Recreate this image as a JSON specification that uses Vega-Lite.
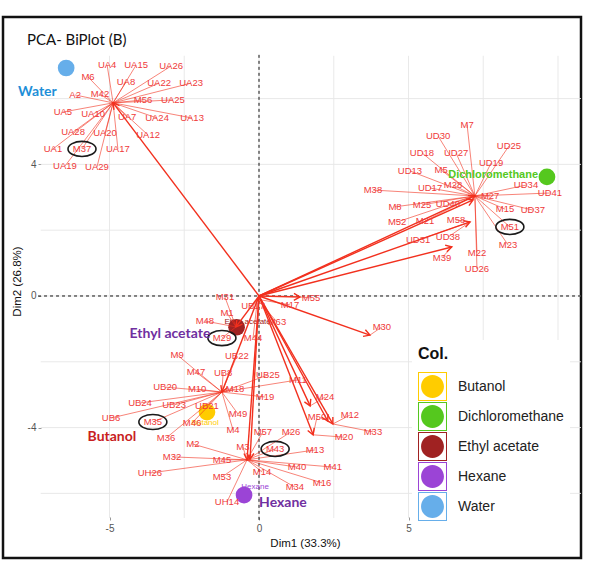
{
  "$schema": "https://vega.github.io/schema/vega-lite/v6.json",
  "width": 578,
  "height": 541,
  "autosize": {"type": "none"},
  "padding": {"left": 3, "top": 17, "right": 10, "bottom": 11},
  "background": "white",
  "title": {"text": "PCA- BiPlot (B)", "anchor": "start", "frame": "group", "offset": -29, "dx": 24, "dy": 14, "baseline": "alphabetic", "font": "Lato", "fontSize": 15, "fontWeight": "normal", "color": "#111"},
  "config": {"view": {"stroke": "#111", "strokeWidth": 2.5}, "font": "Liberation Sans"},
  "datasets": {
    "gridx": [{"gx": -5}, {"gx": -2.5}, {"gx": 0}, {"gx": 2.5}, {"gx": 5}, {"gx": 7.5}, {"gx": 10}],
    "gridy": [{"gy": -6}, {"gy": -4}, {"gy": -2}, {"gy": 0}, {"gy": 2}, {"gy": 4}, {"gy": 6}],
    "groups": [
      {"grp": "Water", "x": -6.45, "y": 6.93},
      {"grp": "Dichloromethane", "x": 9.63, "y": 3.62},
      {"grp": "Ethyl acetate", "x": -0.75, "y": -0.95},
      {"grp": "Butanol", "x": -1.74, "y": -3.53},
      {"grp": "Hexane", "x": -0.5, "y": -6.05}
    ],
    "glabels": [
      {"grp": "Ethyl acetate", "x": -0.38, "y": -0.8},
      {"grp": "Butanol", "x": -1.8, "y": -3.86},
      {"grp": "Hexane", "x": -0.13, "y": -5.81}
    ],
    "dlabel": [{"grp": "Dichloromethane", "x": 7.83, "y": 3.68}],
    "tags": [
      {"tag": "Water", "x": -7.41, "y": 6.2},
      {"tag": "Butanol", "x": -4.92, "y": -4.29},
      {"tag": "Ethyl acetate", "x": -2.98, "y": -1.16},
      {"tag": "Hexane", "x": 0.8, "y": -6.29}
    ],
    "arrows": [
      {"a": "W", "ax": -4.88, "ay": 5.87},
      {"a": "D1", "ax": 7.22, "ay": 3.04},
      {"a": "D1b", "ax": 7.16, "ay": 2.92},
      {"a": "D2", "ax": 7.06, "ay": 2.25},
      {"a": "D3", "ax": 6.45, "ay": 1.49},
      {"a": "E2", "ax": -0.77, "ay": -0.94},
      {"a": "B", "ax": -1.24, "ay": -2.92},
      {"a": "H", "ax": -0.4, "ay": -4.98},
      {"a": "H2", "ax": -0.3, "ay": -4.96},
      {"a": "M55", "ax": 1.37, "ay": -0.03},
      {"a": "M30", "ax": 3.71, "ay": -1.19},
      {"a": "F1", "ax": 1.71, "ay": -3.34},
      {"a": "F2", "ax": 2.47, "ay": -3.89},
      {"a": "F3", "ax": 1.81, "ay": -4.22},
      {"a": "F4", "ax": 2.3, "ay": -3.8}
    ],
    "vars": [
      {"v": "UA4", "lx": -5.08, "ly": 7.02, "tx": -4.88, "ty": 5.87, "circ": 0},
      {"v": "UA15", "lx": -4.11, "ly": 7.02, "tx": -4.88, "ty": 5.87, "circ": 0},
      {"v": "UA26", "lx": -2.94, "ly": 6.99, "tx": -4.88, "ty": 5.87, "circ": 0},
      {"v": "M6", "lx": -5.72, "ly": 6.66, "tx": -4.88, "ty": 5.87, "circ": 0},
      {"v": "UA8", "lx": -4.45, "ly": 6.5, "tx": -4.88, "ty": 5.87, "circ": 0},
      {"v": "UA22", "lx": -3.34, "ly": 6.47, "tx": -4.88, "ty": 5.87, "circ": 0},
      {"v": "UA23", "lx": -2.27, "ly": 6.47, "tx": -4.88, "ty": 5.87, "circ": 0},
      {"v": "A2", "lx": -6.15, "ly": 6.11, "tx": -4.88, "ty": 5.87, "circ": 0},
      {"v": "M42", "lx": -5.32, "ly": 6.14, "tx": -4.88, "ty": 5.87, "circ": 0},
      {"v": "M56", "lx": -3.88, "ly": 5.96, "tx": -4.88, "ty": 5.87, "circ": 0},
      {"v": "UA25", "lx": -2.88, "ly": 5.96, "tx": -4.88, "ty": 5.87, "circ": 0},
      {"v": "UA5", "lx": -6.56, "ly": 5.59, "tx": -4.88, "ty": 5.87, "circ": 0},
      {"v": "UA10", "lx": -5.55, "ly": 5.53, "tx": -4.88, "ty": 5.87, "circ": 0},
      {"v": "UA7", "lx": -4.41, "ly": 5.44, "tx": -4.88, "ty": 5.87, "circ": 0},
      {"v": "UA24", "lx": -3.41, "ly": 5.41, "tx": -4.88, "ty": 5.87, "circ": 0},
      {"v": "UA13", "lx": -2.24, "ly": 5.41, "tx": -4.88, "ty": 5.87, "circ": 0},
      {"v": "UA28", "lx": -6.22, "ly": 4.98, "tx": -4.88, "ty": 5.87, "circ": 0},
      {"v": "UA20", "lx": -5.15, "ly": 4.95, "tx": -4.88, "ty": 5.87, "circ": 0},
      {"v": "UA12", "lx": -3.71, "ly": 4.89, "tx": -4.88, "ty": 5.87, "circ": 0},
      {"v": "UA1", "lx": -6.89, "ly": 4.47, "tx": -4.88, "ty": 5.87, "circ": 0},
      {"v": "M37", "lx": -5.92, "ly": 4.47, "tx": -4.88, "ty": 5.87, "circ": 1},
      {"v": "UA17", "lx": -4.72, "ly": 4.47, "tx": -4.88, "ty": 5.87, "circ": 0},
      {"v": "UA19", "lx": -6.49, "ly": 3.95, "tx": -4.88, "ty": 5.87, "circ": 0},
      {"v": "UA29", "lx": -5.42, "ly": 3.92, "tx": -4.88, "ty": 5.87, "circ": 0},
      {"v": "M7", "lx": 6.96, "ly": 5.2, "tx": 7.22, "ty": 3.04, "circ": 0},
      {"v": "UD30", "lx": 5.99, "ly": 4.86, "tx": 7.22, "ty": 3.04, "circ": 0},
      {"v": "UD25", "lx": 8.36, "ly": 4.56, "tx": 7.22, "ty": 3.04, "circ": 0},
      {"v": "UD18", "lx": 5.45, "ly": 4.35, "tx": 7.22, "ty": 3.04, "circ": 0},
      {"v": "UD27", "lx": 6.59, "ly": 4.35, "tx": 7.22, "ty": 3.04, "circ": 0},
      {"v": "UD19", "lx": 7.76, "ly": 4.04, "tx": 7.22, "ty": 3.04, "circ": 0},
      {"v": "UD13", "lx": 5.05, "ly": 3.8, "tx": 7.22, "ty": 3.04, "circ": 0},
      {"v": "M5", "lx": 6.09, "ly": 3.83, "tx": 7.22, "ty": 3.04, "circ": 0},
      {"v": "UD34", "lx": 8.93, "ly": 3.37, "tx": 7.22, "ty": 3.04, "circ": 0},
      {"v": "M38", "lx": 3.81, "ly": 3.22, "tx": 7.22, "ty": 3.04, "circ": 0},
      {"v": "UD17", "lx": 5.72, "ly": 3.28, "tx": 7.22, "ty": 3.04, "circ": 0},
      {"v": "M28", "lx": 6.49, "ly": 3.37, "tx": 7.22, "ty": 3.04, "circ": 0},
      {"v": "UD41", "lx": 9.73, "ly": 3.13, "tx": 7.22, "ty": 3.04, "circ": 0},
      {"v": "M27", "lx": 7.73, "ly": 3.04, "tx": 7.22, "ty": 3.04, "circ": 0},
      {"v": "M8", "lx": 4.55, "ly": 2.71, "tx": 7.22, "ty": 3.04, "circ": 0},
      {"v": "M25", "lx": 5.45, "ly": 2.77, "tx": 7.22, "ty": 3.04, "circ": 0},
      {"v": "UD40", "lx": 6.32, "ly": 2.8, "tx": 7.22, "ty": 3.04, "circ": 0},
      {"v": "M15", "lx": 8.23, "ly": 2.64, "tx": 7.22, "ty": 3.04, "circ": 0},
      {"v": "UD37", "lx": 9.16, "ly": 2.61, "tx": 7.22, "ty": 3.04, "circ": 0},
      {"v": "M52", "lx": 4.62, "ly": 2.25, "tx": 7.22, "ty": 3.04, "circ": 0},
      {"v": "M21", "lx": 5.55, "ly": 2.28, "tx": 7.22, "ty": 3.04, "circ": 0},
      {"v": "M51", "lx": 8.39, "ly": 2.1, "tx": 7.22, "ty": 3.04, "circ": 1},
      {"v": "M23", "lx": 8.33, "ly": 1.55, "tx": 7.22, "ty": 3.04, "circ": 0},
      {"v": "M22", "lx": 7.29, "ly": 1.31, "tx": 7.22, "ty": 3.04, "circ": 0},
      {"v": "UD26", "lx": 7.29, "ly": 0.82, "tx": 7.22, "ty": 3.04, "circ": 0},
      {"v": "M58", "lx": 6.59, "ly": 2.31, "tx": 7.06, "ty": 2.25, "circ": 0},
      {"v": "UD31", "lx": 5.32, "ly": 1.7, "tx": 7.06, "ty": 2.25, "circ": 0},
      {"v": "UD38", "lx": 6.32, "ly": 1.79, "tx": 7.06, "ty": 2.25, "circ": 0},
      {"v": "M39", "lx": 6.12, "ly": 1.16, "tx": 6.45, "ty": 1.49, "circ": 0},
      {"v": "M29", "lx": -1.24, "ly": -1.28, "tx": -0.77, "ty": -0.94, "circ": 1},
      {"v": "M48", "lx": -1.81, "ly": -0.76, "tx": -0.77, "ty": -0.94, "circ": 0},
      {"v": "M1", "lx": -1.07, "ly": -0.52, "tx": -0.77, "ty": -0.94, "circ": 0},
      {"v": "M31", "lx": -1.14, "ly": -0.03, "tx": -0.77, "ty": -0.94, "circ": 0},
      {"v": "UB17", "lx": -0.2, "ly": -0.3, "tx": -0.05, "ty": -0.1, "circ": 0},
      {"v": "M17", "lx": 1.04, "ly": -0.27, "tx": -0.05, "ty": -0.1, "circ": 0},
      {"v": "M63", "lx": 0.6, "ly": -0.79, "tx": -0.05, "ty": -0.1, "circ": 0},
      {"v": "M44", "lx": -0.2, "ly": -1.28, "tx": -0.05, "ty": -0.1, "circ": 0},
      {"v": "M55", "lx": 1.74, "ly": -0.06, "tx": 1.37, "ty": -0.03, "circ": 0},
      {"v": "M30", "lx": 4.11, "ly": -0.94, "tx": 3.71, "ty": -1.19, "circ": 0},
      {"v": "M9", "lx": -2.74, "ly": -1.79, "tx": -1.24, "ty": -2.92, "circ": 0},
      {"v": "UB22", "lx": -0.74, "ly": -1.82, "tx": -1.24, "ty": -2.92, "circ": 0},
      {"v": "M47", "lx": -2.11, "ly": -2.31, "tx": -1.24, "ty": -2.92, "circ": 0},
      {"v": "UB8", "lx": -1.2, "ly": -2.34, "tx": -1.24, "ty": -2.92, "circ": 0},
      {"v": "UB25", "lx": 0.3, "ly": -2.4, "tx": -1.24, "ty": -2.92, "circ": 0},
      {"v": "M11", "lx": 1.3, "ly": -2.55, "tx": -1.24, "ty": -2.92, "circ": 0},
      {"v": "UB20", "lx": -3.14, "ly": -2.77, "tx": -1.24, "ty": -2.92, "circ": 0},
      {"v": "M10", "lx": -2.07, "ly": -2.83, "tx": -1.24, "ty": -2.92, "circ": 0},
      {"v": "M18", "lx": -0.8, "ly": -2.83, "tx": -1.24, "ty": -2.92, "circ": 0},
      {"v": "M19", "lx": 0.2, "ly": -3.07, "tx": -1.24, "ty": -2.92, "circ": 0},
      {"v": "UB24", "lx": -3.98, "ly": -3.25, "tx": -1.24, "ty": -2.92, "circ": 0},
      {"v": "UB23", "lx": -2.84, "ly": -3.31, "tx": -1.24, "ty": -2.92, "circ": 0},
      {"v": "UB21", "lx": -1.74, "ly": -3.34, "tx": -1.24, "ty": -2.92, "circ": 0},
      {"v": "M49", "lx": -0.7, "ly": -3.59, "tx": -1.24, "ty": -2.92, "circ": 0},
      {"v": "UB6", "lx": -4.95, "ly": -3.71, "tx": -1.24, "ty": -2.92, "circ": 0},
      {"v": "M35", "lx": -3.55, "ly": -3.83, "tx": -1.24, "ty": -2.92, "circ": 1},
      {"v": "M46", "lx": -2.24, "ly": -3.86, "tx": -1.24, "ty": -2.92, "circ": 0},
      {"v": "M36", "lx": -3.11, "ly": -4.32, "tx": -1.24, "ty": -2.92, "circ": 0},
      {"v": "M4", "lx": -0.87, "ly": -4.07, "tx": -1.24, "ty": -2.92, "circ": 0},
      {"v": "M57", "lx": 0.13, "ly": -4.13, "tx": -0.4, "ty": -4.98, "circ": 0},
      {"v": "M26", "lx": 1.07, "ly": -4.13, "tx": -0.4, "ty": -4.98, "circ": 0},
      {"v": "M2", "lx": -2.21, "ly": -4.5, "tx": -0.4, "ty": -4.98, "circ": 0},
      {"v": "M3", "lx": -0.54, "ly": -4.59, "tx": -0.4, "ty": -4.98, "circ": 0},
      {"v": "M43", "lx": 0.54, "ly": -4.65, "tx": -0.4, "ty": -4.98, "circ": 1},
      {"v": "M13", "lx": 1.87, "ly": -4.68, "tx": -0.4, "ty": -4.98, "circ": 0},
      {"v": "M32", "lx": -2.91, "ly": -4.89, "tx": -0.4, "ty": -4.98, "circ": 0},
      {"v": "M45", "lx": -1.24, "ly": -4.98, "tx": -0.4, "ty": -4.98, "circ": 0},
      {"v": "M40", "lx": 1.27, "ly": -5.2, "tx": -0.4, "ty": -4.98, "circ": 0},
      {"v": "M41", "lx": 2.47, "ly": -5.2, "tx": -0.4, "ty": -4.98, "circ": 0},
      {"v": "M14", "lx": 0.1, "ly": -5.35, "tx": -0.4, "ty": -4.98, "circ": 0},
      {"v": "UH26", "lx": -3.65, "ly": -5.38, "tx": -0.4, "ty": -4.98, "circ": 0},
      {"v": "M53", "lx": -1.24, "ly": -5.5, "tx": -0.4, "ty": -4.98, "circ": 0},
      {"v": "M16", "lx": 2.11, "ly": -5.68, "tx": -0.4, "ty": -4.98, "circ": 0},
      {"v": "M34", "lx": 1.2, "ly": -5.81, "tx": -0.4, "ty": -4.98, "circ": 0},
      {"v": "UH14", "lx": -1.07, "ly": -6.26, "tx": -0.4, "ty": -4.98, "circ": 0},
      {"v": "M24", "lx": 2.21, "ly": -3.07, "tx": 1.71, "ty": -3.34, "circ": 0},
      {"v": "M50", "lx": 1.94, "ly": -3.68, "tx": 1.81, "ty": -4.22, "circ": 0},
      {"v": "M20", "lx": 2.84, "ly": -4.29, "tx": 1.81, "ty": -4.22, "circ": 0},
      {"v": "M12", "lx": 3.04, "ly": -3.62, "tx": 2.47, "ty": -3.89, "circ": 0},
      {"v": "M33", "lx": 3.81, "ly": -4.13, "tx": 2.47, "ty": -3.89, "circ": 0}
    ]
  },
  "layer": [
    {
      "data": {"name": "gridx"},
      "mark": {"type": "rule", "color": "#E6E6E6", "strokeWidth": 0.9},
      "encoding": {
        "x": {"field": "gx", "type": "quantitative",
          "scale": {"domain": [-8.562, 10.769], "nice": false, "zero": false},
          "axis": {"title": "Dim1 (33.3%)", "values": [-5, 0, 5], "offset": -41, "domain": false, "grid": false, "tickSize": 3, "tickColor": "#999", "labelFontSize": 10, "labelColor": "#555", "labelPadding": 3, "labelExpr": "replace(datum.label, '\u2212', '-')", "titleFontSize": 11.5, "titleFontWeight": "normal", "titleColor": "#111", "titleX": 302, "titleY": 26, "titleBaseline": "middle"}},
        "y": {"datum": 7.3, "type": "quantitative",
          "scale": {"domain": [-7.964, 8.48], "nice": false, "zero": false},
          "axis": {"title": "Dim2 (26.8%)", "values": [-4, 0, 4], "offset": -38, "domain": false, "grid": false, "tickSize": 3, "tickColor": "#999", "labelFontSize": 10, "labelColor": "#555", "labelPadding": 2, "labelExpr": "replace(datum.label, '\u2212', '-')", "titleFontSize": 11.5, "titleFontWeight": "normal", "titleColor": "#111", "titleX": -24, "titleY": 264, "titleBaseline": "middle"}},
        "y2": {"datum": -6.75}
      }
    },
    {
      "data": {"name": "gridy"},
      "mark": {"type": "rule", "color": "#E6E6E6", "strokeWidth": 0.9},
      "encoding": {
        "y": {"field": "gy", "type": "quantitative"},
        "x": {"datum": -7.3, "type": "quantitative"},
        "x2": {"datum": 10.77}
      }
    },
    {
      "data": {"name": "gridx"},
      "transform": [{"filter": "datum.gx == 0"}],
      "mark": {"type": "rule", "color": "#111", "strokeWidth": 1, "strokeDash": [3, 3]},
      "encoding": {
        "x": {"field": "gx", "type": "quantitative"},
        "y": {"datum": 7.33, "type": "quantitative"},
        "y2": {"datum": -6.81}
      }
    },
    {
      "data": {"name": "gridy"},
      "transform": [{"filter": "datum.gy == 0"}],
      "mark": {"type": "rule", "color": "#111", "strokeWidth": 1, "strokeDash": [3, 3]},
      "encoding": {
        "y": {"field": "gy", "type": "quantitative"},
        "x": {"datum": -7.39, "type": "quantitative"},
        "x2": {"datum": 10.77}
      }
    },
    {
      "data": {"name": "groups"},
      "mark": {"type": "point", "shape": "circle", "filled": true, "size": 280, "opacity": 1, "strokeWidth": 0},
      "encoding": {
        "x": {"field": "x", "type": "quantitative"},
        "y": {"field": "y", "type": "quantitative"},
        "fill": {"field": "grp", "type": "nominal",
          "scale": {"range": ["#FFCC00", "#55C81E", "#A02222", "#9B44D6", "#66AEEA"]},
          "legend": {"title": "Col.", "orient": "none", "legendX": 409, "legendY": 323,
            "symbolType": "M-1,-1H1V1H-1Z M-0.93,-0.93V0.93H0.93V-0.93Z M0.79,0A0.79,0.79 0 1,1 -0.79,0A0.79,0.79 0 1,1 0.79,0Z",
            "symbolSize": 841, "symbolStrokeWidth": 0, "symbolOpacity": 1, "fillColor": "white", "padding": 6,
            "titleFont": "Liberation Sans", "titleFontSize": 16, "titleFontWeight": "bold", "titleColor": "#111", "titlePadding": 10,
            "rowPadding": 1, "labelFont": "Liberation Sans", "labelFontSize": 14, "labelColor": "#222", "labelOffset": 11}
        }
      }
    },
    {
      "data": {"name": "glabels"},
      "mark": {"type": "text", "fontSize": 8, "font": "Liberation Sans"},
      "encoding": {
        "x": {"field": "x", "type": "quantitative"},
        "y": {"field": "y", "type": "quantitative"},
        "text": {"field": "grp"},
        "fill": {"field": "grp", "type": "nominal", "legend": null}
      }
    },
    {
      "data": {"name": "arrows"},
      "mark": {"type": "rule", "color": "#F2301E", "strokeWidth": 1.4},
      "encoding": {
        "x": {"field": "ax", "type": "quantitative"},
        "y": {"field": "ay", "type": "quantitative"},
        "x2": {"datum": 0},
        "y2": {"datum": 0}
      }
    },
    {
      "data": {"name": "arrows"},
      "transform": [{"calculate": "atan2(datum.ax * 29.9, datum.ay * 32.9) * 180 / PI", "as": "ang"}],
      "mark": {"type": "point", "shape": "M-0.5,0.866L0,0L0.5,0.866", "filled": false, "size": 196, "stroke": "#F2301E", "strokeWidth": 1.4, "opacity": 1},
      "encoding": {
        "x": {"field": "ax", "type": "quantitative"},
        "y": {"field": "ay", "type": "quantitative"},
        "angle": {"field": "ang", "type": "quantitative", "scale": null, "legend": null}
      }
    },
    {
      "data": {"name": "vars"},
      "mark": {"type": "rule", "color": "#F2301E", "strokeWidth": 0.6},
      "encoding": {
        "x": {"field": "tx", "type": "quantitative"},
        "y": {"field": "ty", "type": "quantitative"},
        "x2": {"field": "lx"},
        "y2": {"field": "ly"}
      }
    },
    {
      "data": {"name": "dlabel"},
      "mark": {"type": "text", "fontSize": 11, "fontWeight": "bold", "font": "Liberation Sans"},
      "encoding": {
        "x": {"field": "x", "type": "quantitative"},
        "y": {"field": "y", "type": "quantitative"},
        "text": {"field": "grp"},
        "fill": {"field": "grp", "type": "nominal", "legend": null}
      }
    },
    {
      "data": {"name": "vars"},
      "mark": {"type": "text", "fontSize": 9.5, "font": "Liberation Sans", "color": "#EF3A3A"},
      "encoding": {
        "x": {"field": "lx", "type": "quantitative"},
        "y": {"field": "ly", "type": "quantitative"},
        "text": {"field": "v"}
      }
    },
    {
      "data": {"name": "vars"},
      "transform": [{"filter": "datum.circ == 1"}],
      "mark": {"type": "point", "shape": "M-1,0A1,0.54 0 1,0 1,0A1,0.54 0 1,0 -1,0Z", "filled": false, "size": 784, "stroke": "#1a1a1a", "strokeWidth": 1.6, "opacity": 1},
      "encoding": {
        "x": {"field": "lx", "type": "quantitative"},
        "y": {"field": "ly", "type": "quantitative"}
      }
    },
    {
      "data": {"name": "tags"},
      "mark": {"type": "text", "fontSize": 14, "fontWeight": "bold", "font": "Lato"},
      "encoding": {
        "x": {"field": "x", "type": "quantitative"},
        "y": {"field": "y", "type": "quantitative"},
        "text": {"field": "tag"},
        "color": {"field": "tag", "type": "nominal", "legend": null,
          "scale": {"domain": ["Water", "Butanol", "Ethyl acetate", "Hexane"], "range": ["#1E8FD8", "#C8201E", "#7030A0", "#7030A0"]}}
      }
    }
  ]
}
